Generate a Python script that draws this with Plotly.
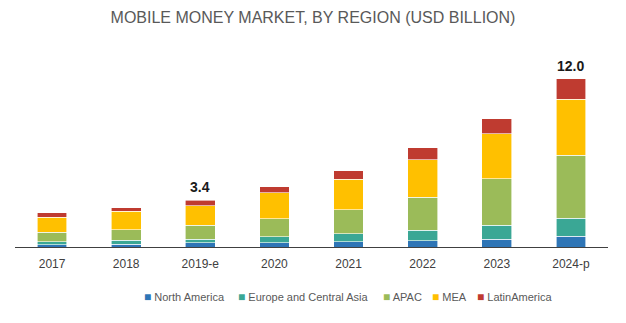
import plotly.graph_objects as go

years = ["2017", "2018", "2019-e", "2020", "2021", "2022", "2023", "2024-p"]
north_america = [0.17, 0.18, 0.31, 0.30, 0.37, 0.44, 0.54, 0.76]
europe_central_asia = [0.19, 0.32, 0.24, 0.43, 0.57, 0.76, 1.00, 1.31]
apac = [0.71, 0.74, 1.02, 1.29, 1.71, 2.36, 3.33, 4.50]
mea = [1.07, 1.30, 1.38, 1.86, 2.19, 2.69, 3.21, 3.98]
latin_america = [0.29, 0.27, 0.39, 0.43, 0.62, 0.84, 1.09, 1.48]
total_labels = ["", "", "3.4", "", "", "", "", "12.0"]

series = [
    ("North America", north_america, "#2E75B6"),
    ("Europe and Central Asia", europe_central_asia, "#3AA795"),
    ("APAC", apac, "#9BBB59"),
    ("MEA", mea, "#FFC000"),
    ("LatinAmerica", latin_america, "#BF3B30"),
]
# legend entry left positions (paper fraction)
legend_x = [0.214, 0.372, 0.617, 0.700, 0.775]

fig = go.Figure()
for name, vals, color in series:
    fig.add_trace(go.Bar(
        x=years, y=vals, name=name,
        marker=dict(color=color, line=dict(color="white", width=0.6)),
        width=0.4, showlegend=False,
    ))

totals = [sum(v) for v in zip(*[s[1] for s in series])]
for yr, tot, lab in zip(years, totals, total_labels):
    if lab:
        fig.add_annotation(x=yr, y=tot, text="<b>" + lab + "</b>", showarrow=False,
                           yanchor="bottom", yshift=3,
                           font=dict(family="Liberation Sans, Arial", size=14, color="#1a1a1a"))

for (name, vals, color), lx in zip(series, legend_x):
    fig.add_annotation(xref="paper", yref="paper", x=lx, y=-0.275,
                       xanchor="left", yanchor="middle", showarrow=False,
                       text="<span style='color:%s;font-size:12px'>■</span> %s" % (color, name),
                       font=dict(family="Liberation Sans, Arial", size=11, color="#595959"))

fig.update_layout(
    barmode="stack",
    width=626, height=323,
    margin=dict(l=15, r=18, t=65, b=76),
    paper_bgcolor="white", plot_bgcolor="white",
    title=dict(text="MOBILE MONEY MARKET, BY REGION (USD BILLION)",
               x=0.5, xanchor="center", y=0.947, yanchor="middle",
               font=dict(family="Liberation Sans, Arial", size=16, color="#595959")),
    showlegend=False,
    xaxis=dict(showline=True, linecolor="#404040", linewidth=1, ticks="",
               ticklabelstandoff=6,
               tickfont=dict(family="Liberation Sans, Arial", size=12, color="#404040"),
               showgrid=False),
    yaxis=dict(range=[0, 13], visible=False, showgrid=False),
    bargap=0.6,
)

fig.write_html("out.html")
